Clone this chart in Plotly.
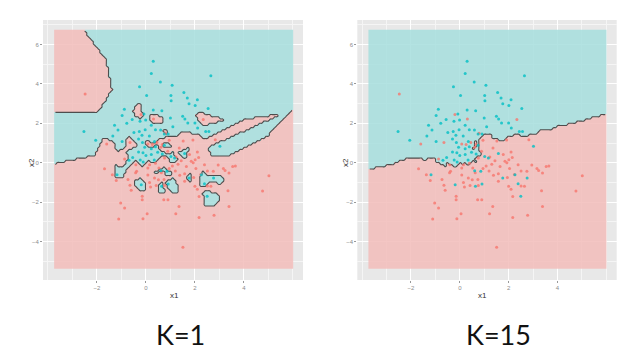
import numpy as np
import plotly.graph_objects as go

# ---- data ----
teal_x = [0.30, 0.22, 2.65, 0.59, 1.07, -0.26, 0.03, 1.02, 1.55, 1.69, 2.10, 1.76, 1.03, 2.01, 2.54,
          -0.88, 0.30, 0.65, -0.08, 1.50, 1.59, -0.97, -0.56, -0.24, -0.01, 1.00, -1.28, -0.78, 1.71,
          2.00, 1.10, 2.11, -2.53, -1.14, -0.49, -0.27, -0.03, 0.22, 0.39, 0.60, 0.75, 0.91, 2.44,
          2.57, -2.05, -0.97, -0.30, -0.16, 0.14, 0.35, -0.14, -0.05, 0.22, 0.39, 0.75, 3.02, -0.30,
          -0.12, 0.00, 0.22, 0.48, 0.67, 1.02, 1.17, 1.58, -0.54, -0.23, -0.69, -0.11, 0.34, -1.18,
          0.61, 0.86, -0.19, 0.64, 1.76, 2.26, 2.76, 2.39, 2.50, 0.91, -1.35]
teal_y = [5.15, 4.53, 4.42, 4.10, 3.93, 3.86, 3.42, 3.42, 3.56, 3.29, 3.20, 3.00, 3.15, 2.90, 2.75,
          2.71, 2.68, 2.64, 2.47, 2.36, 2.22, 2.40, 2.20, 2.10, 2.17, 2.27, 1.90, 2.00, 2.02,
          2.02, 1.83, 1.76, 1.59, 1.66, 1.53, 1.59, 1.68, 1.90, 1.68, 1.66, 1.46, 1.46, 1.59,
          1.59, 1.14, 1.08, 1.20, 1.39, 1.36, 1.08, 1.02, 0.78, 0.71, 0.81, 0.88, 0.83, 0.54,
          0.51, 0.37, 0.41, 0.53, 0.44, 0.32, 0.24, 0.47, 0.27, 0.14, 0.12, 0.03, 0.14, -0.61,
          -0.41, -0.44, -1.12, -1.20, -0.78, -0.61, -0.78, -1.07, -1.71, -1.08, 1.35]

red_x = [-2.48, -0.20, 0.31, 2.34, 0.79, -1.60, -0.65, 0.08, 0.26, 0.45, 0.67, 0.95, 1.52, 1.92,
         1.36, 1.78, 2.10, 2.83, -0.87, -0.41, -0.38, 0.15, 0.39, 0.76, 1.44, 1.85, 2.01, 2.15,
         2.39, 1.65, -1.69, -1.37, -1.21, -0.73, -0.65, -0.60, -1.03, -0.87, -1.11, -0.15, -0.15,
         -0.12, 0.05, -0.42, 0.08, 0.08, 0.15, 0.19, 0.35, 0.42, 0.51, 0.53, 0.63, 0.74, 0.76,
         0.73, 0.90, 0.95, 1.08, 1.20, 1.31, 1.38, 1.58, 1.58, 1.35, 1.22, 1.51, 1.93, 2.04,
         2.10, 2.17, 2.24, 2.51, 2.51, 2.78, 2.17, 2.95, 3.16, 3.23, 3.39, 3.54, 3.35, 3.39,
         5.02, 4.76, 3.65, 2.65, 1.95, 2.00, 2.75, 0.61, 0.89, 1.23]
red_y = [3.49, 2.45, 2.22, 2.20, 1.49, 0.95, 1.02, 0.95, 0.92, 1.02, 0.92, 1.14, 1.10, 1.15,
         0.75, 0.41, 0.54, 1.17, 0.19, -0.10, -0.44, -0.10, -0.03, 0.24, 0.10, 0.07, 0.15, 0.27,
         -0.10, -0.19, -0.31, -0.61, -0.90, -0.86, -1.15, -1.40, -2.05, -2.30, -2.86, -1.71, -1.88,
         -2.85, -2.60, -0.51, -0.27, -0.62, -1.00, -1.24, -0.78, -1.16, -0.87, -0.27, -0.51, -0.85, -1.16,
         -1.88, -1.88, -0.30, -0.17, -0.42, -0.08, -0.64, -0.56, -0.94, -2.22, -2.60, -4.30, 0.00, -0.30,
         -1.35, -1.72, -0.60, -0.42, -1.18, -2.67, -2.78, -0.12, -0.30, -0.40, -0.52, -0.19, -1.42, -2.22,
         -0.66, -1.44, -0.17, -1.20, -0.75, -1.20, -0.44, 0.78, 0.58, 0.29]

k_values = [1, 15]
panel_titles = ["K=1", "K=15"]
x_ticks = [-2, 0, 2, 4]
y_ticks = [-4, -2, 0, 2, 4, 6]

# ---- grid + knn ----
gx = np.linspace(-3.7, 5.97, 110)
gy = np.linspace(-5.35, 6.7, 110)
GX, GY = np.meshgrid(gx, gy)
px = np.array(red_x + teal_x)
py = np.array(red_y + teal_y)
lab = np.array([0] * len(red_x) + [1] * len(teal_x))
d2 = (GX.ravel()[:, None] - px[None, :]) ** 2 + (GY.ravel()[:, None] - py[None, :]) ** 2
order = np.argsort(d2, axis=1)

RED = "#F8766D"
TEAL = "#00BFC4"
BG_RED = "#F2BDBA"
BG_TEAL = "#A6DEDD"

fig = go.Figure()
for i, k in enumerate(k_values):
    xa = "x" if i == 0 else "x2"
    ya = "y" if i == 0 else "y2"
    votes = lab[order[:, :k]].mean(axis=1)
    z = (votes > 0.5).astype(float).reshape(GX.shape)
    fig.add_trace(go.Heatmap(x=gx, y=gy, z=z, colorscale=[[0, BG_RED], [1, BG_TEAL]],
                             zmin=0, zmax=1, showscale=False, opacity=0.85,
                             xaxis=xa, yaxis=ya, hoverinfo="skip"))
    fig.add_trace(go.Contour(x=gx, y=gy, z=z, showscale=False,
                             contours=dict(start=0.5, end=0.5, size=1, coloring="none"),
                             line=dict(color="#4D4D4D", width=1.1),
                             xaxis=xa, yaxis=ya, hoverinfo="skip"))
    fig.add_trace(go.Scatter(x=red_x, y=red_y, mode="markers",
                             marker=dict(color=RED, size=3, opacity=0.8), xaxis=xa, yaxis=ya,
                             showlegend=False))
    fig.add_trace(go.Scatter(x=teal_x, y=teal_y, mode="markers",
                             marker=dict(color=TEAL, size=3, opacity=0.8), xaxis=xa, yaxis=ya,
                             showlegend=False))

ax_common = dict(showgrid=True, gridcolor="white", gridwidth=1, zeroline=False,
                 ticks="outside", ticklen=2, tickcolor="#999999",
                 tickfont=dict(size=6, color="#8C8C8C", family="Liberation Sans"),
                 showline=False,
                 minor=dict(dtick=1, gridcolor="#F5F5F5", gridwidth=0.5, showgrid=True))
fig.update_layout(
    width=640, height=358, margin=dict(l=0, r=0, t=0, b=0),
    paper_bgcolor="white", plot_bgcolor="#E8E8E8", showlegend=False,
    xaxis=dict(domain=[0.0547, 0.4609], range=[-4.2, 6.41], tickvals=x_ticks, anchor="y", **ax_common),
    yaxis=dict(domain=[0.2402, 0.9665], range=[-5.96, 7.25], tickvals=y_ticks, anchor="x", **ax_common),
    xaxis2=dict(domain=[0.5458, 0.9511], range=[-4.2, 6.43], tickvals=x_ticks, anchor="y2", **ax_common),
    yaxis2=dict(domain=[0.2402, 0.9665], range=[-5.96, 7.25], tickvals=y_ticks, anchor="x2", **ax_common),
)

ann = []
for cx, t in [(172 / 640, panel_titles[0]), (490 / 640, panel_titles[1])]:
    ann.append(dict(x=cx, y=1 - 326 / 358, xref="paper", yref="paper", text=t, showarrow=False,
                    xanchor="center", yanchor="middle",
                    font=dict(size=27, color="#111111", family="Lato")))
for x0 in [166 / 640, 474 / 640]:
    ann.append(dict(x=x0, y=1 - 287 / 358, xref="paper", yref="paper", text="x1", showarrow=False,
                    xanchor="center", yanchor="middle",
                    font=dict(size=8, color="#333333", family="Liberation Sans")))
for x0 in [23 / 640, 337 / 640]:
    ann.append(dict(x=x0, y=1 - 155 / 358, xref="paper", yref="paper", text="x2", showarrow=False,
                    xanchor="center", yanchor="middle",
                    textangle=-90, font=dict(size=8, color="#333333", family="Liberation Sans")))
fig.update_layout(annotations=ann)

fig.write_html("out.html")
